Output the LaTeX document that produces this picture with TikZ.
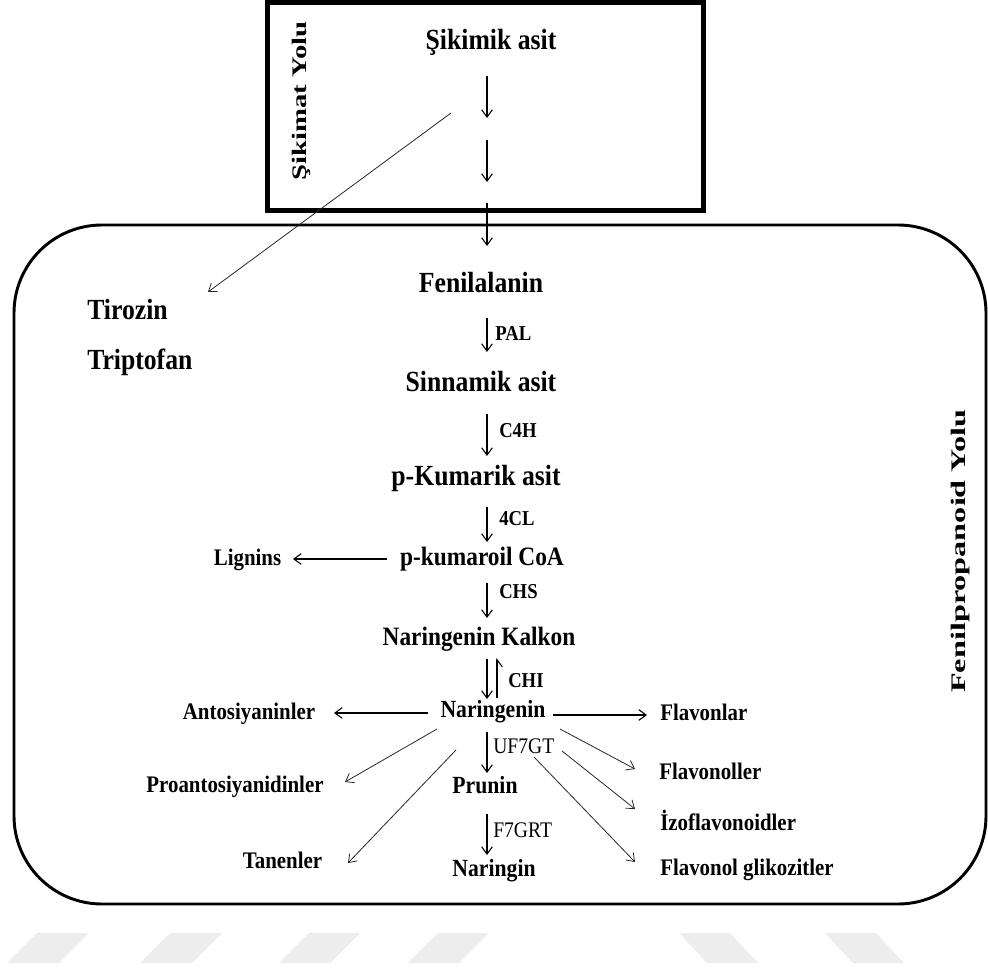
\documentclass[tikz,border=0pt]{standalone}
\usepackage{fontspec}
\setmainfont[FakeStretch=0.88]{Liberation Serif}
\newfontfamily\plainserif{Liberation Serif}
\usetikzlibrary{arrows.meta,calc}
\begin{document}
\begin{tikzpicture}[x=0.75pt,y=-0.75pt,
  bigl/.style={font=\fontsize{21.9}{24}\selectfont\bfseries,inner sep=0pt,anchor=base},
  medl/.style={font=\fontsize{19.9}{22}\selectfont\bfseries,inner sep=0pt,anchor=base},
  narl/.style={font=\fontsize{18.5}{21}\selectfont\bfseries,inner sep=0pt,anchor=base},
  smll/.style={font=\fontsize{17.8}{20}\selectfont\bfseries,inner sep=0pt,anchor=base},
  smlw/.style={font=\fontsize{17.8}{20}\selectfont\bfseries,inner sep=0pt,anchor=base west},
  enzl/.style={font=\fontsize{15.9}{18}\selectfont\bfseries,inner sep=0pt,anchor=base west},
  enzr/.style={font=\fontsize{16.7}{19}\selectfont,inner sep=0pt,anchor=base west},
  rotl/.style={font=\plainserif\fontsize{15.5}{17}\selectfont\bfseries,inner sep=0pt,rotate=90},
  arr/.style={-{Straight Barb[length=5.5pt,width=8pt]},line width=0.8pt},
  harp/.style={-{Straight Barb[length=5.5pt,width=8pt,harpoon,swap]},line width=0.8pt},
  darr/.style={-{Straight Barb[length=5.5pt,width=8pt]},line width=0.6pt,black!85},
  wmark/.style={fill=black!7,draw=none}
  ]
\useasboundingbox (0,0) rectangle (988,969);
% watermark stripes
\fill[wmark] (37,933) -- (89,933) -- (59,963) -- (7,963) -- cycle;
\fill[wmark] (170,933) -- (222,933) -- (192,963) -- (140,963) -- cycle;
\fill[wmark] (309,933) -- (360,933) -- (330,963) -- (279,963) -- cycle;
\fill[wmark] (438,933) -- (489,933) -- (459,963) -- (408,963) -- cycle;
\fill[wmark] (679,933) -- (730,933) -- (758,963) -- (707,963) -- cycle;
\fill[wmark] (825,933) -- (876,933) -- (904,963) -- (853,963) -- cycle;
% frames
\draw[line width=3.75pt] (267,3) rectangle (703,211);
\draw[line width=2.2pt,rounded corners=66pt] (14,225) rectangle (986,904);
% labels
\node[bigl] (sik) at (491,50) {Şikimik asit};
\node[rotl] (sy) at (301,101) {\scalebox{1.39}[1]{Şikimat Yolu}};
\node[rotl] (fy) at (961,551) {\scalebox{1.56}[1]{Fenilpropanoid Yolu}};
\node[bigl] (fen) at (481,293) {Fenilalanin};
\node[bigl,anchor=base west] (tir) at (87,320) {Tirozin};
\node[bigl,anchor=base west] (tri) at (87,370) {Triptofan};
\node[enzl] (pal) at (495,341) {PAL};
\node[bigl] (sin) at (481,392) {Sinnamik asit};
\node[enzl] (c4h) at (499,438) {C4H};
\node[bigl] (pku) at (476,485) {p-Kumarik asit};
\node[enzl] (cl4) at (499,525) {4CL};
\node[smll] (lig) at (247.5,565) {Lignins};
\node[medl] (pco) at (482,565) {p-kumaroil CoA};
\node[enzl] (chs) at (499,598) {CHS};
\node[medl] (nk) at (479,645) {Naringenin Kalkon};
\node[enzl] (chi) at (508,687) {CHI};
\node[narl] (nar) at (493,717) {Naringenin};
\node[smll] (ant) at (249,719) {Antosiyaninler};
\node[smlw] (fla) at (660,720) {Flavonlar};
\node[enzr] (uf) at (493,753) {UF7GT};
\node[narl] (pru) at (485,793) {Prunin};
\node[enzr] (f7) at (493,837) {F7GRT};
\node[narl] (ngn) at (494,876) {Naringin};
\node[smll] (pro) at (235,792) {Proantosiyanidinler};
\node[smll] (tan) at (282.5,868) {Tanenler};
\node[smlw] (flv) at (659,779) {Flavonoller};
\node[smlw] (izo) at (660,830) {İzoflavonoidler};
\node[smlw] (fg) at (660,875) {Flavonol glikozitler};
% free ends
\coordinate (c1) at (487,118);
\coordinate (c2) at (487,140);
\coordinate (c3) at (487,182);
\coordinate (c4) at (487,203);
\coordinate (dstart) at (451,113);
% connectors
\draw[arr] ($(sik.base)+(-4,26)$) -- (c1);
\draw[arr] (c2) -- (c3);
\draw[arr] (c4) -- ($(fen.base)+(6,-47)$);
\draw[darr] (dstart) -- ($(tir.base west)+(121,-28)$);
\draw[arr] ($(fen.base)+(6,25)$) -- ($(sin.base)+(6,-40)$);
\draw[arr] ($(sin.base)+(6,22)$) -- ($(pku.base)+(11,-29)$);
\draw[arr] ($(pku.base)+(11,22)$) -- ($(pco.base)+(5,-23)$);
\draw[arr] ($(pco.base)+(-95,-6)$) -- ($(lig.base)+(45.5,-6)$);
\draw[arr] ($(pco.base)+(5,18)$) -- ($(nk.base)+(8,-27)$);
\draw[arr] ($(nk.base)+(8,14)$) -- ($(nar.base)+(-6,-18)$);
\draw[harp] ($(nar.base)+(4,-19)$) -- ($(nk.base)+(18,13)$);
\draw[arr] ($(nar.base)+(-65,-4)$) -- ($(ant.base)+(85,-6)$);
\draw[arr] ($(nar.base)+(60,-2)$) -- ($(fla.base west)+(-13,-5)$);
\draw[arr] ($(nar.base)+(-6,15)$) -- ($(pru.base)+(2,-20)$);
\draw[arr] ($(pru.base)+(2,21)$) -- ($(ngn.base)+(-7,-21)$);
\draw[darr] ($(nar.base)+(-56,12)$) -- ($(pro.base)+(110,-10)$);
\draw[darr] ($(nar.base)+(-37,33)$) -- ($(tan.base)+(65.5,-5)$);
\draw[darr] ($(nar.base)+(67,12)$) -- ($(flv.base west)+(-24,-10)$);
\draw[darr] ($(nar.base)+(69,34)$) -- ($(izo.base west)+(-25,-21)$);
\draw[darr] ($(nar.base)+(41,40)$) -- ($(fg.base west)+(-25,-13)$);
\end{tikzpicture}
\end{document}
